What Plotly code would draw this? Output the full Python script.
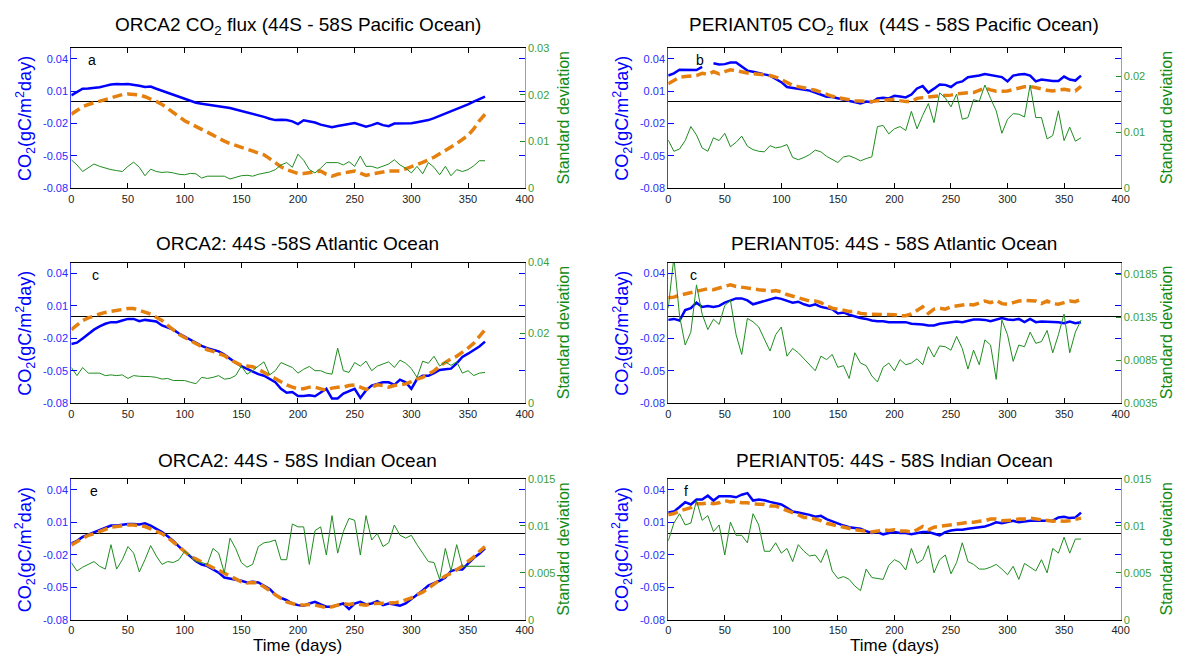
import plotly.graph_objects as go

W, H = 1190, 666

# Day of year, sampled every 5 days
days = list(range(0, 366, 5))

# ---------------- ORCA2, Pacific ----------------
orca_pac_flux = [
    0.0061, 0.0095, 0.0122, 0.0124, 0.0128, 0.0136, 0.0149, 0.0162, 0.0167, 0.0163,
    0.0167, 0.0160, 0.0149, 0.0138, 0.0142, 0.0122, 0.0104, 0.0086, 0.0067, 0.0046,
    0.0028, 0.0008, -0.0008, -0.0016, -0.0023, -0.0030, -0.0038, -0.0046, -0.0056, -0.0070,
    -0.0084, -0.0094, -0.0105, -0.0122, -0.0138, -0.0155, -0.0168, -0.0165, -0.0168, -0.0180,
    -0.0205, -0.0170, -0.0180, -0.0190, -0.0210, -0.0225, -0.0235, -0.0222, -0.0210, -0.0205,
    -0.0196, -0.0210, -0.0229, -0.0215, -0.0196, -0.0215, -0.0225, -0.0200, -0.0200, -0.0205,
    -0.0198, -0.0188, -0.0180, -0.0168, -0.0150, -0.0130, -0.0108, -0.0090, -0.0068, -0.0045,
    -0.0023, 0.0003, 0.0028, 0.0050]
orca_pac_fit = [
    -0.0114, -0.0075, -0.0044, -0.0024, -0.0008, 0.0008, 0.0022, 0.0040, 0.0058, 0.0068,
    0.0074, 0.0072, 0.0065, 0.0048, 0.0028, 0.0005, -0.0023, -0.0058, -0.0098, -0.0136,
    -0.0174, -0.0203, -0.0228, -0.0254, -0.0280, -0.0310, -0.0340, -0.0363, -0.0385, -0.0403,
    -0.0421, -0.0438, -0.0455, -0.0470, -0.0490, -0.0525, -0.0566, -0.0600, -0.0627, -0.0648,
    -0.0663, -0.0662, -0.0657, -0.0650, -0.0640, -0.0670, -0.0687, -0.0670, -0.0657, -0.0648,
    -0.0640, -0.0660, -0.0680, -0.0668, -0.0657, -0.0648, -0.0640, -0.0640, -0.0640, -0.0620,
    -0.0597, -0.0580, -0.0560, -0.0538, -0.0512, -0.0480, -0.0445, -0.0418, -0.0385, -0.0350,
    -0.0310, -0.0250, -0.0174, -0.0114]
orca_pac_std = [
    0.0061, 0.0050, 0.0036, 0.0045, 0.0052, 0.0047, 0.0043, 0.0040, 0.0038, 0.0036,
    0.0047, 0.0056, 0.0045, 0.0027, 0.0041, 0.0036, 0.0034, 0.0035, 0.0033, 0.0030,
    0.0029, 0.0032, 0.0031, 0.0022, 0.0026, 0.0026, 0.0025, 0.0026, 0.0020, 0.0023,
    0.0027, 0.0028, 0.0026, 0.0030, 0.0033, 0.0035, 0.0040, 0.0050, 0.0055, 0.0045,
    0.0073, 0.0060, 0.0040, 0.0033, 0.0043, 0.0055, 0.0055, 0.0055, 0.0050, 0.0057,
    0.0047, 0.0069, 0.0047, 0.0047, 0.0043, 0.0048, 0.0052, 0.0061, 0.0050, 0.0043,
    0.0033, 0.0047, 0.0031, 0.0055, 0.0045, 0.0029, 0.0047, 0.0027, 0.0040, 0.0036,
    0.0040, 0.0048, 0.0059, 0.0059]

# ---------------- PERIANT05, Pacific ----------------
peri_pac_flux = [
    0.0244, 0.0265, 0.0298, 0.0295, 0.0295, 0.0295, 0.0325, None, 0.0358, 0.0346,
    0.0350, 0.0364, 0.0365, 0.0330, 0.0290, 0.0280, 0.0265, 0.0255, 0.0244, 0.0210,
    0.0183, 0.0138, 0.0129, 0.0125, 0.0114, 0.0105, 0.0087, 0.0070, 0.0048, 0.0045,
    0.0033, 0.0020, 0.0003, -0.0003, -0.0015, 0.0003, -0.0003, 0.0033, 0.0038, 0.0033,
    0.0057, 0.0050, 0.0042, 0.0069, 0.0125, 0.0147, 0.0087, 0.0123, 0.0162, 0.0158,
    0.0138, 0.0177, 0.0190, 0.0229, 0.0235, 0.0245, 0.0259, 0.0250, 0.0235, 0.0230,
    0.0190, 0.0244, 0.0253, 0.0259, 0.0244, 0.0190, 0.0207, 0.0200, 0.0193, 0.0193,
    0.0235, 0.0207, 0.0198, 0.0244]
peri_pac_fit = [
    0.0168, 0.0198, 0.0229, 0.0235, 0.0238, 0.0244, 0.0265, 0.0255, 0.0280, 0.0260,
    0.0280, 0.0298, 0.0289, 0.0275, 0.0268, 0.0262, 0.0253, 0.0250, 0.0244, 0.0230,
    0.0207, 0.0178, 0.0153, 0.0142, 0.0132, 0.0120, 0.0108, 0.0090, 0.0069, 0.0052,
    0.0039, 0.0028, 0.0018, 0.0012, 0.0009, 0.0006, 0.0003, 0.0010, 0.0015, 0.0020,
    0.0024, 0.0012, 0.0003, 0.0003, 0.0033, 0.0040, 0.0048, 0.0052, 0.0057, 0.0060,
    0.0063, 0.0075, 0.0084, 0.0085, 0.0087, 0.0110, 0.0129, 0.0112, 0.0099, 0.0100,
    0.0102, 0.0115, 0.0129, 0.0140, 0.0144, 0.0130, 0.0114, 0.0108, 0.0102, 0.0110,
    0.0117, 0.0108, 0.0102, 0.0144]
peri_pac_std = [
    0.0086, 0.0066, 0.0070, 0.0085, 0.0110, 0.0095, 0.0072, 0.0066, 0.0090, 0.0085,
    0.0098, 0.0074, 0.0082, 0.0093, 0.0075, 0.0069, 0.0066, 0.0065, 0.0076, 0.0072,
    0.0074, 0.0078, 0.0055, 0.0051, 0.0055, 0.0060, 0.0068, 0.0065, 0.0057, 0.0052,
    0.0046, 0.0056, 0.0058, 0.0054, 0.0049, 0.0053, 0.0056, 0.0110, 0.0112, 0.0097,
    0.0106, 0.0110, 0.0103, 0.0137, 0.0106, 0.0130, 0.0151, 0.0117, 0.0170, 0.0161,
    0.0145, 0.0168, 0.0123, 0.0126, 0.0158, 0.0155, 0.0184, 0.0160, 0.0138, 0.0098,
    0.0123, 0.0133, 0.0132, 0.0127, 0.0184, 0.0126, 0.0126, 0.0088, 0.0094, 0.0138,
    0.0085, 0.0109, 0.0084, 0.0090]

# ---------------- ORCA2, Atlantic ----------------
orca_atl_flux = [
    -0.0251, -0.0239, -0.0200, -0.0155, -0.0119, -0.0089, -0.0065, -0.0050, -0.0050, -0.0035,
    -0.0020, -0.0020, -0.0041, -0.0029, -0.0035, -0.0044, -0.0080, -0.0101, -0.0119, -0.0155,
    -0.0185, -0.0209, -0.0239, -0.0269, -0.0290, -0.0305, -0.0320, -0.0350, -0.0389, -0.0425,
    -0.0455, -0.0479, -0.0500, -0.0530, -0.0545, -0.0575, -0.0605, -0.0665, -0.0701, -0.0695,
    -0.0731, -0.0731, -0.0725, -0.0734, -0.0701, -0.0665, -0.0755, -0.0755, -0.0710, -0.0689,
    -0.0665, -0.0749, -0.0680, -0.0635, -0.0620, -0.0605, -0.0605, -0.0629, -0.0581, -0.0605,
    -0.0665, -0.0575, -0.0545, -0.0545, -0.0521, -0.0491, -0.0485, -0.0479, -0.0431, -0.0371,
    -0.0341, -0.0311, -0.0275, -0.0230]
orca_atl_fit = [
    -0.0119, -0.0080, -0.0035, -0.0011, 0.0010, 0.0025, 0.0040, 0.0049, 0.0061, 0.0070,
    0.0076, 0.0076, 0.0061, 0.0040, 0.0025, -0.0005, -0.0035, -0.0080, -0.0125, -0.0161,
    -0.0191, -0.0221, -0.0251, -0.0275, -0.0305, -0.0320, -0.0341, -0.0359, -0.0395, -0.0419,
    -0.0449, -0.0455, -0.0461, -0.0485, -0.0515, -0.0539, -0.0569, -0.0605, -0.0629, -0.0650,
    -0.0665, -0.0665, -0.0650, -0.0650, -0.0665, -0.0680, -0.0659, -0.0650, -0.0650, -0.0635,
    -0.0629, -0.0650, -0.0671, -0.0650, -0.0629, -0.0635, -0.0650, -0.0635, -0.0629, -0.0620,
    -0.0599, -0.0575, -0.0560, -0.0530, -0.0500, -0.0455, -0.0419, -0.0389, -0.0365, -0.0329,
    -0.0290, -0.0245, -0.0185, -0.0119]
orca_atl_std = [
    0.0102, 0.0079, 0.0102, 0.0086, 0.0086, 0.0086, 0.0079, 0.0081, 0.0079, 0.0081,
    0.0071, 0.0079, 0.0077, 0.0077, 0.0076, 0.0074, 0.0069, 0.0071, 0.0065, 0.0065,
    0.0065, 0.0060, 0.0056, 0.0074, 0.0071, 0.0074, 0.0079, 0.0069, 0.0071, 0.0079,
    0.0106, 0.0083, 0.0093, 0.0106, 0.0118, 0.0081, 0.0093, 0.0116, 0.0108, 0.0102,
    0.0086, 0.0097, 0.0105, 0.0093, 0.0093, 0.0086, 0.0083, 0.0157, 0.0093, 0.0088,
    0.0116, 0.0106, 0.0120, 0.0093, 0.0106, 0.0111, 0.0118, 0.0102, 0.0123, 0.0114,
    0.0099, 0.0074, 0.0120, 0.0114, 0.0134, 0.0106, 0.0118, 0.0108, 0.0118, 0.0086,
    0.0093, 0.0079, 0.0086, 0.0088]

# ---------------- PERIANT05, Atlantic ----------------
peri_atl_flux = [
    -0.0029, -0.0020, -0.0035, 0.0061, 0.0079, 0.0130, 0.0091, 0.0100, 0.0091, 0.0100,
    0.0130, 0.0151, 0.0169, 0.0169, 0.0151, 0.0115, 0.0130, 0.0151, 0.0166, 0.0175,
    0.0165, 0.0145, 0.0130, 0.0139, 0.0115, 0.0100, 0.0115, 0.0091, 0.0079, 0.0070,
    0.0031, 0.0040, 0.0019, 0.0001, -0.0011, -0.0020, -0.0035, -0.0041, -0.0041, -0.0050,
    -0.0050, -0.0056, -0.0050, -0.0065, -0.0065, -0.0071, -0.0080, -0.0080, -0.0065, -0.0059,
    -0.0050, -0.0044, -0.0050, -0.0035, -0.0026, -0.0026, -0.0029, -0.0041, -0.0026, -0.0011,
    -0.0026, -0.0029, -0.0020, -0.0050, -0.0020, -0.0050, -0.0044, -0.0044, -0.0050, -0.0050,
    -0.0059, -0.0044, -0.0059, -0.0050]
peri_atl_fit = [
    0.0175, 0.0181, 0.0199, 0.0211, 0.0229, 0.0235, 0.0250, 0.0259, 0.0250, 0.0265,
    0.0280, 0.0295, 0.0280, 0.0271, 0.0265, 0.0259, 0.0250, 0.0244, 0.0235, 0.0241,
    0.0229, 0.0205, 0.0190, 0.0175, 0.0160, 0.0145, 0.0145, 0.0130, 0.0100, 0.0079,
    0.0070, 0.0061, 0.0049, 0.0049, 0.0031, 0.0025, 0.0025, 0.0025, 0.0025, 0.0025,
    0.0019, 0.0010, 0.0010, 0.0025, 0.0061, 0.0091, 0.0031, 0.0070, 0.0079, 0.0070,
    0.0091, 0.0100, 0.0109, 0.0115, 0.0109, 0.0130, 0.0145, 0.0130, 0.0151, 0.0121,
    0.0115, 0.0130, 0.0145, 0.0151, 0.0151, 0.0145, 0.0121, 0.0145, 0.0121, 0.0115,
    0.0130, 0.0145, 0.0139, 0.0160]
peri_atl_std = [
    0.0146, 0.0205, 0.0137, 0.0103, 0.0118, 0.0173, 0.0139, 0.0121, 0.0133, 0.0127,
    0.0149, 0.0155, 0.0115, 0.0092, 0.0134, 0.0130, 0.0124, 0.0109, 0.0096, 0.0115,
    0.0124, 0.0090, 0.0099, 0.0094, 0.0087, 0.0079, 0.0073, 0.0090, 0.0086, 0.0092,
    0.0077, 0.0079, 0.0064, 0.0094, 0.0082, 0.0079, 0.0067, 0.0060, 0.0077, 0.0082,
    0.0073, 0.0086, 0.0080, 0.0082, 0.0087, 0.0080, 0.0101, 0.0089, 0.0102, 0.0101,
    0.0097, 0.0113, 0.0099, 0.0075, 0.0097, 0.0080, 0.0109, 0.0103, 0.0063, 0.0132,
    0.0115, 0.0084, 0.0103, 0.0101, 0.0118, 0.0105, 0.0107, 0.0120, 0.0094, 0.0115,
    0.0139, 0.0094, 0.0118, 0.0132]

# ---------------- ORCA2, Indian ----------------
orca_ind_flux = [
    -0.0095, -0.0071, -0.0035, -0.0014, 0.0001, 0.0025, 0.0046, 0.0070, 0.0070, 0.0079,
    0.0085, 0.0085, 0.0079, 0.0091, 0.0070, 0.0040, 0.0010, -0.0029, -0.0071, -0.0125,
    -0.0170, -0.0215, -0.0260, -0.0290, -0.0305, -0.0335, -0.0365, -0.0410, -0.0419, -0.0431,
    -0.0440, -0.0455, -0.0449, -0.0455, -0.0485, -0.0515, -0.0569, -0.0599, -0.0620, -0.0650,
    -0.0665, -0.0671, -0.0650, -0.0635, -0.0659, -0.0680, -0.0680, -0.0665, -0.0650, -0.0701,
    -0.0650, -0.0635, -0.0659, -0.0650, -0.0629, -0.0665, -0.0650, -0.0659, -0.0671, -0.0650,
    -0.0605, -0.0569, -0.0530, -0.0485, -0.0461, -0.0440, -0.0410, -0.0350, -0.0335, -0.0335,
    -0.0281, -0.0230, -0.0191, -0.0140]
orca_ind_fit = [
    -0.0110, -0.0080, -0.0044, -0.0020, -0.0005, 0.0016, 0.0037, 0.0055, 0.0061, 0.0070,
    0.0076, 0.0076, 0.0070, 0.0061, 0.0040, 0.0019, -0.0005, -0.0041, -0.0080, -0.0125,
    -0.0170, -0.0215, -0.0239, -0.0269, -0.0299, -0.0320, -0.0344, -0.0371, -0.0395, -0.0425,
    -0.0449, -0.0461, -0.0455, -0.0461, -0.0491, -0.0530, -0.0569, -0.0605, -0.0635, -0.0650,
    -0.0665, -0.0665, -0.0659, -0.0665, -0.0680, -0.0689, -0.0680, -0.0665, -0.0650, -0.0659,
    -0.0650, -0.0659, -0.0665, -0.0650, -0.0650, -0.0644, -0.0650, -0.0644, -0.0635, -0.0620,
    -0.0599, -0.0569, -0.0545, -0.0509, -0.0470, -0.0425, -0.0395, -0.0371, -0.0341, -0.0305,
    -0.0260, -0.0221, -0.0170, -0.0125]
orca_ind_std = [
    0.0061, 0.0052, 0.0056, 0.0059, 0.0062, 0.0057, 0.0054, 0.0080, 0.0054, 0.0064,
    0.0078, 0.0071, 0.0051, 0.0064, 0.0079, 0.0068, 0.0059, 0.0062, 0.0061, 0.0064,
    0.0073, 0.0068, 0.0062, 0.0061, 0.0059, 0.0076, 0.0071, 0.0050, 0.0087, 0.0076,
    0.0061, 0.0056, 0.0059, 0.0078, 0.0082, 0.0083, 0.0085, 0.0064, 0.0064, 0.0102,
    0.0099, 0.0099, 0.0059, 0.0095, 0.0099, 0.0069, 0.0111, 0.0071, 0.0094, 0.0108,
    0.0106, 0.0069, 0.0111, 0.0085, 0.0092, 0.0078, 0.0082, 0.0101, 0.0090, 0.0087,
    0.0090, 0.0080, 0.0071, 0.0062, 0.0061, 0.0043, 0.0076, 0.0052, 0.0080, 0.0057,
    0.0057, 0.0057, 0.0057, 0.0057]

# ---------------- PERIANT05, Indian ----------------
peri_ind_flux = [
    0.0190, 0.0199, 0.0241, 0.0286, 0.0265, 0.0310, 0.0310, 0.0346, 0.0301, 0.0340,
    0.0340, 0.0340, 0.0331, 0.0355, 0.0370, 0.0301, 0.0310, 0.0304, 0.0289, 0.0280,
    0.0265, 0.0235, 0.0199, 0.0190, 0.0181, 0.0169, 0.0151, 0.0160, 0.0130, 0.0109,
    0.0091, 0.0070, 0.0055, 0.0049, 0.0040, 0.0019, 0.0001, 0.0010, -0.0011, 0.0001,
    0.0010, 0.0001, 0.0001, -0.0011, 0.0001, 0.0010, 0.0010, -0.0005, -0.0020, 0.0010,
    0.0025, 0.0031, 0.0031, 0.0040, 0.0049, 0.0055, 0.0061, 0.0079, 0.0100, 0.0091,
    0.0100, 0.0115, 0.0100, 0.0109, 0.0115, 0.0115, 0.0115, 0.0121, 0.0115, 0.0145,
    0.0151, 0.0139, 0.0145, 0.0190]
peri_ind_fit = [
    0.0169, 0.0181, 0.0205, 0.0220, 0.0235, 0.0271, 0.0271, 0.0280, 0.0271, 0.0280,
    0.0301, 0.0289, 0.0295, 0.0280, 0.0280, 0.0271, 0.0265, 0.0265, 0.0250, 0.0250,
    0.0229, 0.0211, 0.0190, 0.0169, 0.0145, 0.0145, 0.0130, 0.0115, 0.0091, 0.0079,
    0.0061, 0.0049, 0.0040, 0.0031, 0.0025, 0.0019, 0.0010, 0.0019, 0.0031, 0.0025,
    0.0031, 0.0019, 0.0019, 0.0010, 0.0031, 0.0061, 0.0031, 0.0055, 0.0061, 0.0070,
    0.0079, 0.0085, 0.0091, 0.0100, 0.0100, 0.0109, 0.0115, 0.0130, 0.0130, 0.0115,
    0.0115, 0.0121, 0.0130, 0.0130, 0.0139, 0.0130, 0.0121, 0.0115, 0.0109, 0.0115,
    0.0109, 0.0115, 0.0130, 0.0139]
peri_ind_std = [
    0.0084, 0.0103, 0.0113, 0.0101, 0.0103, 0.0127, 0.0106, 0.0111, 0.0094, 0.0101,
    0.0069, 0.0104, 0.0090, 0.0090, 0.0082, 0.0113, 0.0101, 0.0073, 0.0073, 0.0082,
    0.0071, 0.0076, 0.0062, 0.0080, 0.0073, 0.0068, 0.0069, 0.0061, 0.0075, 0.0052,
    0.0044, 0.0046, 0.0043, 0.0036, 0.0031, 0.0054, 0.0045, 0.0044, 0.0043, 0.0058,
    0.0064, 0.0061, 0.0053, 0.0076, 0.0060, 0.0064, 0.0079, 0.0050, 0.0064, 0.0069,
    0.0049, 0.0061, 0.0082, 0.0062, 0.0059, 0.0054, 0.0054, 0.0056, 0.0059, 0.0054,
    0.0048, 0.0057, 0.0043, 0.0060, 0.0056, 0.0052, 0.0064, 0.0050, 0.0076, 0.0071,
    0.0088, 0.0071, 0.0086, 0.0086]

# Left-axis ticks (flux) shared by all panels
flux_ticks = [-0.08, -0.05, -0.02, 0.01, 0.04]
flux_tick_text = ["-0.08", "-0.05", "-0.02", "0.01", "0.04"]
x_ticks = [0, 50, 100, 150, 200, 250, 300, 350, 400]

panels = [
    dict(title="ORCA2 CO<sub>2</sub> flux (44S - 58S Pacific Ocean)", letter="a", lx=18,
         flux=orca_pac_flux, fit=orca_pac_fit, std=orca_pac_std,
         srange=[0, 0.03], sticks=[0, 0.01, 0.02, 0.03], stext=["0", "0.01", "0.02", "0.03"]),
    dict(title="PERIANT05 CO<sub>2</sub> flux  (44S - 58S Pacific Ocean)", letter="b", lx=28,
         flux=peri_pac_flux, fit=peri_pac_fit, std=peri_pac_std,
         srange=[0, 0.025], sticks=[0, 0.01, 0.02], stext=["0", "0.01", "0.02"]),
    dict(title="ORCA2: 44S -58S Atlantic Ocean", letter="c", lx=21,
         flux=orca_atl_flux, fit=orca_atl_fit, std=orca_atl_std,
         srange=[0, 0.04], sticks=[0, 0.02, 0.04], stext=["0", "0.02", "0.04"]),
    dict(title="PERIANT05: 44S - 58S Atlantic Ocean", letter="c", lx=22,
         flux=peri_atl_flux, fit=peri_atl_fit, std=peri_atl_std,
         srange=[0.0035, 0.0199], sticks=[0.0035, 0.0085, 0.0135, 0.0185],
         stext=["0.0035", "0.0085", "0.0135", "0.0185"]),
    dict(title="ORCA2: 44S - 58S Indian Ocean", letter="e", lx=20,
         flux=orca_ind_flux, fit=orca_ind_fit, std=orca_ind_std,
         srange=[0, 0.015], sticks=[0, 0.005, 0.01, 0.015], stext=["0", "0.005", "0.01", "0.015"]),
    dict(title="PERIANT05: 44S - 58S Indian Ocean", letter="f", lx=16,
         flux=peri_ind_flux, fit=peri_ind_fit, std=peri_ind_std,
         srange=[0, 0.015], sticks=[0, 0.005, 0.01, 0.015], stext=["0", "0.005", "0.01", "0.015"]),
]

for p in panels:
    for key in ("flux", "fit", "std"):
        assert len(p[key]) == len(days), (p["title"], key, len(p[key]))

# Plot-area boxes in pixels: columns (left, right), rows (top, bottom)
col_px = [(69, 527), (672, 1129)]
row_px = [(42.7, 185.7), (261.3, 404.7), (481.7, 625.0)]

FONT = "Liberation Sans, Arial, sans-serif"
BLUE = "#0000ff"
ORANGE = "#e5800f"
GREEN = "#1f8c1f"
GREEN_AXIS = "#6cc46c"

fig = go.Figure()
layout = dict(
    width=W, height=H, margin=dict(l=0, r=0, t=0, b=0),
    paper_bgcolor="white", plot_bgcolor="white", showlegend=False,
    font=dict(family=FONT, size=11, color="black"),
)
annotations = []

for i, p in enumerate(panels):
    r, c = divmod(i, 2)
    x0, x1 = col_px[c]
    y0, y1 = row_px[r]
    xn = "x" if i == 0 else f"x{i + 1}"
    yl = "y" if i == 0 else f"y{2 * i + 1}"
    yr = f"y{2 * i + 2}"
    xkey = "xaxis" if i == 0 else f"xaxis{i + 1}"
    ylkey = "yaxis" if i == 0 else f"yaxis{2 * i + 1}"
    yrkey = f"yaxis{2 * i + 2}"

    fig.add_trace(go.Scatter(x=days, y=p["std"], xaxis=xn, yaxis=yr, mode="lines",
                             line=dict(color=GREEN, width=1), connectgaps=False))
    fig.add_trace(go.Scatter(x=days, y=p["flux"], xaxis=xn, yaxis=yl, mode="lines",
                             line=dict(color=BLUE, width=2.5), connectgaps=False))
    fig.add_trace(go.Scatter(x=days, y=p["fit"], xaxis=xn, yaxis=yl, mode="lines",
                             line=dict(color=ORANGE, width=3.5, dash="10px,5px")))

    dom_x = [x0 / W, x1 / W]
    dom_y = [1 - y1 / H, 1 - y0 / H]

    layout[xkey] = dict(
        domain=dom_x, anchor=yl, range=[0, 400], tickvals=x_ticks,
        ticks="inside", ticklen=5, tickcolor="black", showline=True, linecolor="black",
        linewidth=1, mirror="ticks", showgrid=False, zeroline=False,
        tickfont=dict(family=FONT, size=11, color="#222222"),
    )
    layout[ylkey] = dict(
        domain=dom_y, anchor=xn, range=[-0.08, 0.05], tickvals=flux_ticks,
        ticktext=flux_tick_text, ticks="inside", ticklen=6, tickcolor=BLUE,
        showline=True, linecolor="#4040ff", linewidth=1, mirror="ticks", showgrid=False,
        zeroline=True, zerolinecolor="black", zerolinewidth=1,
        tickfont=dict(family=FONT, size=11, color="#2a2aff"),
    )
    layout[yrkey] = dict(
        domain=dom_y, anchor=xn, overlaying=yl, side="right", range=p["srange"],
        tickvals=p["sticks"], ticktext=p["stext"], ticks="inside", ticklen=5,
        tickcolor=GREEN, showline=True, linecolor=GREEN_AXIS, linewidth=1,
        showgrid=False, zeroline=False,
        tickfont=dict(family=FONT, size=11, color="#3a9e3a"),
    )

    cx = (x0 + x1) / 2 / W
    cy = 1 - (y0 + y1) / 2 / H
    # panel title (titles with a subscript sit a little lower in their box)
    t_off = 22 if "<sub>" in p["title"] else 19
    annotations.append(dict(
        text=p["title"], x=cx, y=1 - (y0 - t_off) / H, xref="paper", yref="paper",
        xanchor="center", yanchor="middle", showarrow=False,
        font=dict(family=FONT, size=19, color="black")))
    # left axis title
    annotations.append(dict(
        text="CO<sub>2</sub>(gC/m<sup>2</sup>day)", x=(x0 - 47) / W, y=cy,
        xref="paper", yref="paper", xanchor="center", yanchor="middle",
        textangle=-90, showarrow=False, font=dict(family=FONT, size=18, color=BLUE)))
    # right axis title
    annotations.append(dict(
        text="Standard deviation", x=(x1 + (39 if c == 0 else 46)) / W, y=cy,
        xref="paper", yref="paper", xanchor="center", yanchor="middle",
        textangle=-90, showarrow=False, font=dict(family=FONT, size=16, color="#138a13")))
    # panel letter
    annotations.append(dict(
        text=p["letter"], x=p["lx"], y=0.0385, xref=xn, yref=yl,
        xanchor="center", yanchor="middle", showarrow=False,
        font=dict(family=FONT, size=14, color="black")))
    # x-axis title on the bottom row
    if r == 2:
        annotations.append(dict(
            text="Time (days)", x=cx, y=1 - 651 / H, xref="paper", yref="paper",
            xanchor="center", yanchor="middle", showarrow=False,
            font=dict(family=FONT, size=17, color="black")))

layout["annotations"] = annotations
fig.update_layout(**layout)
fig.write_html("out.html")
